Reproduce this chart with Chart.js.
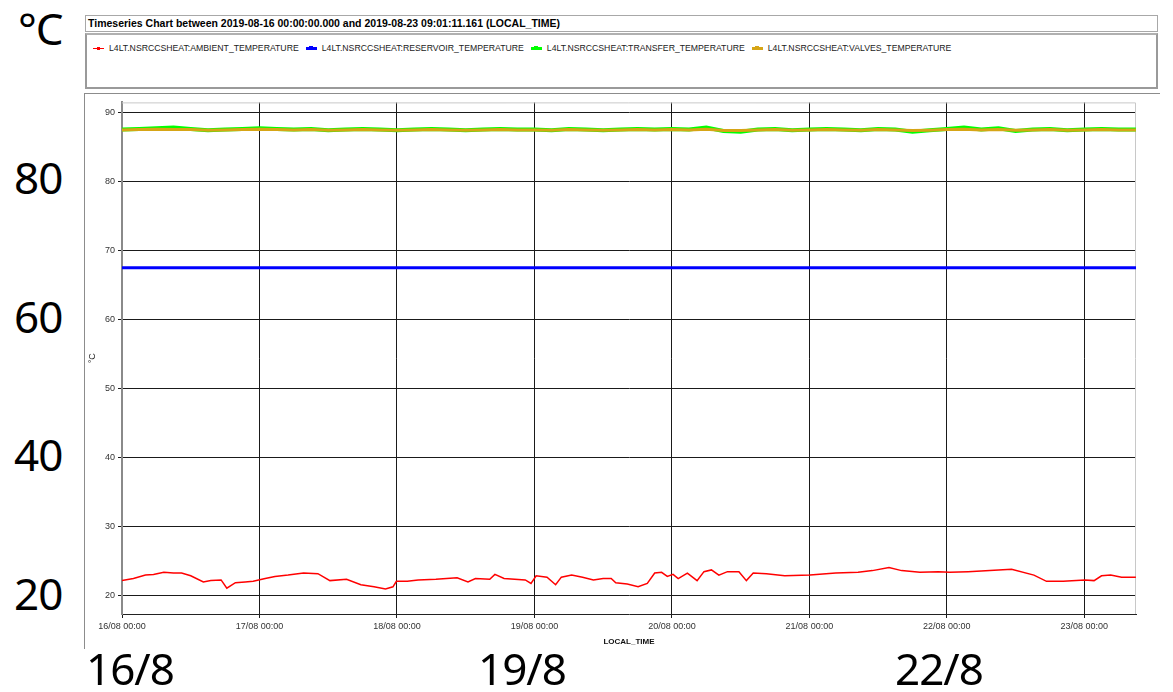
<!DOCTYPE html>
<html>
<head>
<meta charset="utf-8">
<script src="https://cdn.jsdelivr.net/npm/chart.js@4.4.1/dist/chart.umd.min.js"></script>
<style>
  body { margin: 0; background: #fff; width: 1173px; height: 692px; position: relative; overflow: hidden; font-family: "Liberation Sans", Arial, sans-serif; }
  .box { position: absolute; box-sizing: border-box; }
  #titleBox { left: 85px; top: 15px; width: 1073px; height: 17px; border: 1px solid #a8a8a8; font-weight: bold; font-size: 10.5px; line-height: 15px; padding-left: 2px; color: #000; }
  #legendBox { left: 85px; top: 33px; width: 1073px; height: 56px; border: 2px solid #9a9a9a; border-top-color: #b0b0b0; }
  #legendRow { position: absolute; left: 6px; top: 7px; white-space: nowrap; font-size: 8.7px; color: #222; }
  .item { display: inline-block; margin-right: 7px; vertical-align: middle; }
  .mk { display: inline-block; position: relative; width: 11px; height: 6px; vertical-align: middle; margin-right: 5px; }
  .mk .ln { position: absolute; left: 0; right: 0; top: 50%; }
  .mk .pt { position: absolute; left: 50%; top: 50%; }
  #panel { left: 84px; top: 93px; width: 1076px; height: 556px; border-top: 1px solid #8c8c8c; border-left: 1px solid #8c8c8c; }
  canvas { position: absolute; left: 85px; top: 94px; }
  .big { position: absolute; font-family: "Noto Sans", "Open Sans", sans-serif; font-size: 44px; line-height: 44px; color: #000; letter-spacing: -1px; }
</style>
</head>
<body>
<div class="box" id="titleBox">Timeseries Chart between 2019-08-16 00:00:00.000 and 2019-08-23 09:01:11.161 (LOCAL_TIME)</div>
<div class="box" id="legendBox"><div id="legendRow"></div></div>
<div class="box" id="panel"></div>
<canvas id="myChart" width="1075" height="556"></canvas>

<div class="big" style="left:18px; top:6px;">°C</div>
<div class="big" style="left:14px; top:155px;">80</div>
<div class="big" style="left:14px; top:294px;">60</div>
<div class="big" style="left:14px; top:432px;">40</div>
<div class="big" style="left:14px; top:571px;">20</div>
<div class="big" style="left:86px; top:646px;">16/8</div>
<div class="big" style="left:478px; top:646px;">19/8</div>
<div class="big" style="left:895px; top:646px;">22/8</div>

<script>
// === Serienamn och färger ===
const seriesNames = [
  'L4LT.NSRCCSHEAT:AMBIENT_TEMPERATURE',
  'L4LT.NSRCCSHEAT:RESERVOIR_TEMPERATURE',
  'L4LT.NSRCCSHEAT:TRANSFER_TEMPERATURE',
  'L4LT.NSRCCSHEAT:VALVES_TEMPERATURE'
];
const seriesColors = ['#ff0000', '#0000ff', '#00ff00', '#d6a516'];

// x-axeln: timmar från 2019-08-16 00:00
const xMaxHours = 177.02;
const dayLabels = ['16/08 00:00', '17/08 00:00', '18/08 00:00', '19/08 00:00',
                   '20/08 00:00', '21/08 00:00', '22/08 00:00', '23/08 00:00'];

// === AMBIENT ===
const ambientHours = [
  0, 2, 4.1, 5.5, 7.3, 9, 10.4, 12, 14.2, 15.5, 17.3, 18.3, 19.8, 21.5, 22.9,
  25, 26.7, 29, 31.7, 34.2, 36.3, 39.2, 41.7, 44, 46.0, 47.3, 47.9, 49.8,
  51.7, 54.8, 58.5, 60.4, 61.7, 64.2, 65.1, 66.7, 70.4, 71.4, 72.3, 74.2,
  75.7, 76.7, 78.5, 80.4, 82.3, 84.0, 85.4, 86.2, 88.2, 90.1, 91.7, 93.0,
  94.2, 95.2, 96.2, 97.1, 98.7, 100.4, 101.6, 102.9, 104.2, 105.7, 107.7,
  109.0, 110.2, 112.5, 115.7, 120.1, 124.6, 128.5, 131.0, 133.9, 136.1,
  139.3, 142.5, 144.5, 147.7, 151.5, 155.3, 159.2, 161.4, 164.3, 168.1,
  169.7, 171.0, 172.6, 174.5, 177.0
];
const ambientValues = [
  22.1, 22.4, 22.9, 23.0, 23.3, 23.2, 23.2, 22.8, 21.9, 22.1, 22.2, 21.0, 21.8, 21.9, 22.0,
  22.4, 22.7, 22.9, 23.2, 23.1, 22.1, 22.3, 21.5, 21.2, 20.9, 21.2, 22.0, 22.0,
  22.2, 22.3, 22.5, 21.9, 22.4, 22.3, 23.0, 22.4, 22.2, 21.7, 22.8, 22.6,
  21.5, 22.6, 22.9, 22.6, 22.2, 22.4, 22.4, 21.8, 21.6, 21.2, 21.7, 23.2,
  23.3, 22.7, 23.0, 22.4, 23.2, 22.1, 23.4, 23.65, 22.9, 23.4, 23.4,
  22.1, 23.2, 23.1, 22.8, 22.9, 23.2, 23.3, 23.55, 24.0, 23.55,
  23.3, 23.4, 23.3, 23.4, 23.55, 23.75, 22.9, 22.0, 22.0, 22.2,
  22.1, 22.8, 22.9, 22.6, 22.6
];

// === RESERVOIR ===
const reservoirHours = [0, 177.02];
const reservoirValues = [67.45, 67.45];

// === TRANSFER och VALVES (samma tidpunkter, var 3:e timme) ===
const topHours = [
  0, 3, 6, 9, 12, 15, 18, 21, 24, 27, 30, 33, 36, 39, 42, 45, 48, 51, 54, 57,
  60, 63, 66, 69, 72, 75, 78, 81, 84, 87, 90, 93, 96, 99, 102, 105, 108, 111, 114, 117,
  120, 123, 126, 129, 132, 135, 138, 141, 144, 147, 150, 153, 156, 159, 162, 165, 168, 171, 174, 177
];
const transferValues = [
  87.5, 87.6, 87.7, 87.8, 87.6, 87.4, 87.5, 87.6, 87.7, 87.6, 87.5, 87.6, 87.4, 87.5, 87.6, 87.5, 87.4, 87.5, 87.6, 87.5,
  87.4, 87.5, 87.6, 87.5, 87.5, 87.4, 87.6, 87.5, 87.4, 87.5, 87.6, 87.5, 87.6, 87.5, 87.8, 87.3, 87.2, 87.5, 87.6, 87.4,
  87.5, 87.6, 87.5, 87.4, 87.6, 87.5, 87.2, 87.4, 87.6, 87.8, 87.5, 87.7, 87.3, 87.5, 87.6, 87.4, 87.5, 87.6, 87.5, 87.5
];
const valvesValues = [
  87.45, 87.5, 87.55, 87.5, 87.5, 87.4, 87.45, 87.5, 87.55, 87.5, 87.45, 87.5, 87.4, 87.45, 87.5, 87.45, 87.4, 87.45, 87.5, 87.45,
  87.4, 87.45, 87.5, 87.45, 87.45, 87.4, 87.5, 87.45, 87.4, 87.45, 87.5, 87.45, 87.5, 87.45, 87.55, 87.35, 87.35, 87.45, 87.5, 87.4,
  87.45, 87.5, 87.45, 87.4, 87.5, 87.45, 87.35, 87.4, 87.5, 87.55, 87.45, 87.5, 87.4, 87.45, 87.5, 87.4, 87.45, 87.5, 87.45, 87.45
];

// y-axeln
const yMin = 17.26;
const yMax = 91.44;

function toPoints(hours, values) {
  return hours.map((h, i) => ({ x: h, y: values[i] }));
}

// legend i HTML
const markerSizes = [[1, 3], [3, 4], [3, 4], [3, 4]];
const legendRow = document.getElementById('legendRow');
seriesNames.forEach((name, i) => {
  const item = document.createElement('span');
  item.className = 'item';
  const lw = markerSizes[i][0], ps = markerSizes[i][1];
  item.innerHTML =
    '<span class="mk"><span class="ln" style="height:' + lw + 'px;margin-top:' + (-lw / 2) + 'px;background:' + seriesColors[i] + '"></span>' +
    '<span class="pt" style="width:' + ps + 'px;height:' + ps + 'px;margin-left:' + (-ps / 2) + 'px;margin-top:' + (-ps / 2) + 'px;background:' + seriesColors[i] + '"></span></span>' +
    name;
  legendRow.appendChild(item);
});

// ram runt plottytan
const plotOutline = {
  id: 'plotOutline',
  beforeDatasetsDraw(chart) {
    const a = chart.chartArea;
    const c = chart.ctx;
    c.save();
    c.strokeStyle = '#c8c8c8';
    c.lineWidth = 1;
    c.beginPath();
    c.moveTo(a.left, a.top + 0.5);
    c.lineTo(a.right - 0.5, a.top + 0.5);
    c.lineTo(a.right - 0.5, a.bottom);
    c.stroke();
    c.restore();
  }
};

const ctx = document.getElementById('myChart').getContext('2d');
new Chart(ctx, {
  type: 'line',
  data: {
    datasets: [
      {
        label: seriesNames[0],
        data: toPoints(ambientHours, ambientValues),
        borderColor: seriesColors[0],
        borderWidth: 1.5,
        pointRadius: 0,
        tension: 0,
        order: 0
      },
      {
        label: seriesNames[1],
        data: toPoints(reservoirHours, reservoirValues),
        borderColor: seriesColors[1],
        borderWidth: 3,
        pointRadius: 0,
        order: 1
      },
      {
        label: seriesNames[2],
        data: toPoints(topHours, transferValues),
        borderColor: seriesColors[2],
        borderWidth: 4,
        pointRadius: 0,
        order: 3
      },
      {
        label: seriesNames[3],
        data: toPoints(topHours, valvesValues),
        borderColor: seriesColors[3],
        borderWidth: 3,
        pointRadius: 0,
        order: 2
      }
    ]
  },
  options: {
    responsive: false,
    animation: false,
    layout: { padding: { top: 6, right: 24, left: 0, bottom: 0 } },
    plugins: {
      legend: { display: false },
      tooltip: { enabled: false }
    },
    scales: {
      x: {
        type: 'linear',
        min: 0,
        max: xMaxHours,
        afterFit(scale) { scale.height = 36; },
        border: { color: '#222', width: 1 },
        grid: { color: '#1a1a1a', lineWidth: 1, tickLength: 4 },
        ticks: {
          stepSize: 24,
          includeBounds: false,
          autoSkip: false,
          maxRotation: 0,
          padding: 3,
          color: '#333',
          font: { family: 'Liberation Sans', size: 9 },
          callback: (v) => dayLabels[Math.round(v / 24)]
        },
        title: {
          display: true,
          text: 'LOCAL_TIME',
          color: '#111',
          font: { family: 'Liberation Sans', size: 8, weight: 'bold' },
          padding: { top: 0, bottom: 3 }
        }
      },
      y: {
        min: yMin,
        max: yMax,
        afterFit(scale) { scale.width = 37; },
        border: { color: '#8a8a8a', width: 2 },
        grid: { color: '#1a1a1a', lineWidth: 1, tickLength: 4 },
        ticks: {
          stepSize: 10,
          includeBounds: false,
          padding: 3,
          color: '#333',
          font: { family: 'Liberation Sans', size: 9 }
        },
        title: {
          display: true,
          text: '°C',
          color: '#222',
          font: { family: 'Liberation Sans', size: 9 },
          padding: { top: 2, bottom: 0 }
        }
      }
    }
  },
  plugins: [plotOutline]
});
</script>
</body>
</html>
